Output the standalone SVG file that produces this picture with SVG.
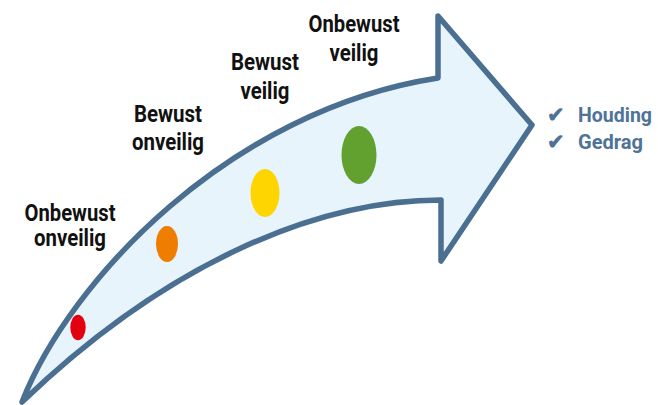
<svg xmlns="http://www.w3.org/2000/svg" width="658" height="405" viewBox="0 0 658 405">
<style>
.lbl{font-family:Roboto,"Liberation Sans",sans-serif;font-weight:bold;font-size:23px;fill:#111;text-anchor:middle}
.chk{font-family:Roboto,"Liberation Sans",sans-serif;font-weight:bold;font-size:21px;fill:#4f7396}
.arrow{fill:#e8f4fc;stroke:#4a6f91;stroke-width:5.5;stroke-linejoin:round}
</style>
<g id="arrow">
<path class="arrow" d="M22,402 C70,280 230,110 438,78 L438,16 L532,125 L441,261 L441,200 C320,200 170,260 22,402 Z"/>
</g>
<g id="dots">
<ellipse cx="78" cy="327.5" rx="7.7" ry="12.7" fill="#e3000f"/>
<ellipse cx="167" cy="244" rx="11" ry="18" fill="#ef7d00"/>
<ellipse cx="265" cy="193" rx="14.5" ry="24" fill="#ffd500"/>
<ellipse cx="359" cy="155" rx="17.5" ry="29" fill="#62a030"/>
</g>
<g id="label1">
<text class="lbl" x="70" y="221" textLength="91" lengthAdjust="spacingAndGlyphs">Onbewust</text>
<text class="lbl" x="70" y="246" textLength="72" lengthAdjust="spacingAndGlyphs">onveilig</text>
</g>
<g id="label2">
<text class="lbl" x="168" y="122" textLength="68" lengthAdjust="spacingAndGlyphs">Bewust</text>
<text class="lbl" x="168" y="150" textLength="72" lengthAdjust="spacingAndGlyphs">onveilig</text>
</g>
<g id="label3">
<text class="lbl" x="265" y="70" textLength="68" lengthAdjust="spacingAndGlyphs">Bewust</text>
<text class="lbl" x="265" y="99" textLength="49" lengthAdjust="spacingAndGlyphs">veilig</text>
</g>
<g id="label4">
<text class="lbl" x="354" y="32" textLength="91" lengthAdjust="spacingAndGlyphs">Onbewust</text>
<text class="lbl" x="354" y="61" textLength="49" lengthAdjust="spacingAndGlyphs">veilig</text>
</g>
<g id="checks">
<text class="chk" x="547" y="122">✔</text>
<text class="chk" x="578" y="122" textLength="74" lengthAdjust="spacingAndGlyphs">Houding</text>
<text class="chk" x="547" y="149">✔</text>
<text class="chk" x="578" y="149" textLength="65" lengthAdjust="spacingAndGlyphs">Gedrag</text>
</g>
</svg>
